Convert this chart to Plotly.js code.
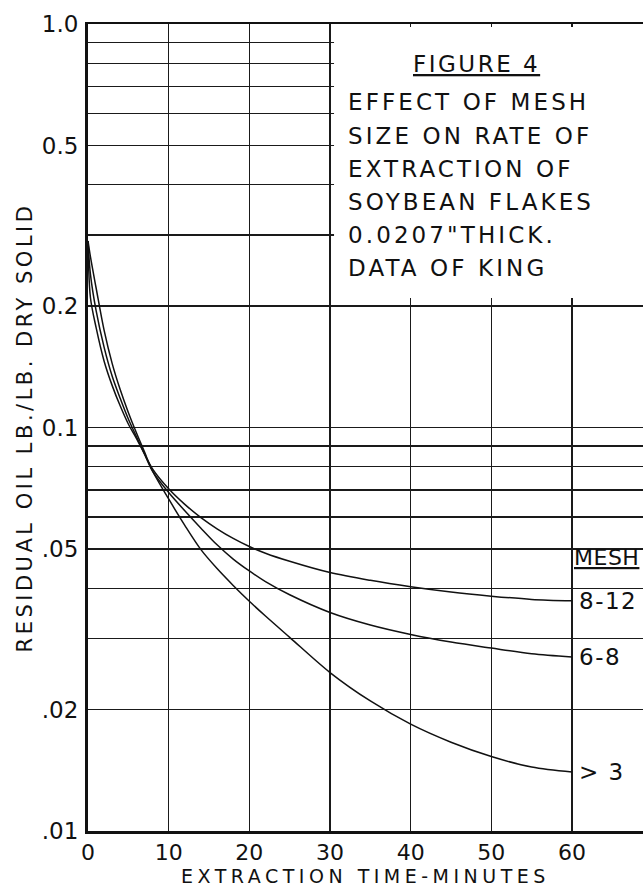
<!DOCTYPE html>
<html>
<head>
<meta charset="utf-8">
<script src="https://cdn.plot.ly/plotly-3.0.1.min.js"></script>
<style>
html,body{margin:0;padding:0;background:#fff;overflow:hidden;}
#chart{width:643px;height:893px;}
</style>
</head>
<body>
<div id="chart"></div>
<script>
// ---- data ----
const timeMin = [0, 0.3, 1, 2, 3, 4, 5, 6, 7, 8, 10, 12, 14, 16, 18, 20, 22, 25, 30, 35, 40, 45, 50, 55, 60];
const mesh8to12 = [0.29, 0.21, 0.177, 0.146, 0.127, 0.113, 0.102, 0.094, 0.086, 0.079, 0.0705, 0.0645, 0.0598, 0.0561, 0.0531, 0.0507, 0.0488, 0.0466, 0.0437, 0.0418, 0.0403, 0.0391, 0.0382, 0.0375, 0.0372];
const mesh6to8 = [0.29, 0.24, 0.195, 0.158, 0.134, 0.118, 0.105, 0.095, 0.086, 0.078, 0.069, 0.0622, 0.0563, 0.0512, 0.0472, 0.0441, 0.0415, 0.0385, 0.0348, 0.0324, 0.0307, 0.0294, 0.0284, 0.0275, 0.027];
const meshOver3 = [0.29, 0.265, 0.222, 0.174, 0.144, 0.124, 0.109, 0.097, 0.087, 0.078, 0.0665, 0.0572, 0.0498, 0.0447, 0.0406, 0.0371, 0.0341, 0.0302, 0.0247, 0.021, 0.0184, 0.0166, 0.0153, 0.0144, 0.014];
const seriesNames = ["8-12", "6-8", "> 3"];

const xTickVals = [0, 10, 20, 30, 40, 50, 60, 70];
const xTickText = ["0", "10", "20", "30", "40", "50", "60", "70"];
const yTickVals = [0.01, 0.02, 0.03, 0.04, 0.05, 0.06, 0.07, 0.08, 0.09, 0.1, 0.2, 0.3, 0.4, 0.5, 0.6, 0.7, 0.8, 0.9, 1.0];
const yTickText = [".01", ".02", "", "", ".05", "", "", "", "", "0.1", "0.2", "", "", "0.5", "", "", "", "", "1.0"];

const noteLines = ["EFFECT OF MESH", "SIZE ON RATE OF", "EXTRACTION OF", "SOYBEAN FLAKES", "0.0207\"THICK.", "DATA OF KING"];

// ---- layout helpers ----
const ML = 88, MR = 0, MT = 24, MB = 62, W = 643, H = 893;
const PW = W - ML - MR, PH = H - MT - MB;
const px = v => (v - ML) / PW;
const py = v => (H - MB - v) / PH;
const FONT = "DejaVu Sans, sans-serif";
const sp = (t, s) => '<span style="letter-spacing:' + s + 'px">' + t + '</span>';

const traces = [mesh8to12, mesh6to8, meshOver3].map((ys, i) => ({
  type: "scatter", mode: "lines", name: seriesNames[i],
  x: timeMin, y: ys,
  line: {color: "#111", width: 1.5, shape: "spline", smoothing: 0.9},
  showlegend: false, hoverinfo: "skip"
}));

const annotations = [];
annotations.push({xref: "paper", yref: "paper", x: px(477), y: py(64), xanchor: "center", yanchor: "middle",
  text: sp("FIGURE 4", 2.5), showarrow: false,
  font: {family: FONT, size: 23, color: "#111", lineposition: "under"}});
const lineY = [102, 136, 169, 202, 235, 268];
noteLines.forEach((t, i) => annotations.push({xref: "paper", yref: "paper", x: px(346), y: py(lineY[i]),
  xanchor: "left", yanchor: "middle", text: sp(t, 3.1), showarrow: false,
  font: {family: FONT, size: 23, color: "#111"}}));
annotations.push({xref: "paper", yref: "paper", x: px(572), y: py(557), xanchor: "left", yanchor: "middle",
  text: sp("MESH", 0.5), showarrow: false,
  font: {family: FONT, size: 22, color: "#111", lineposition: "under"}});
[mesh8to12, mesh6to8, meshOver3].forEach((ys, i) => annotations.push({
  xref: "x", yref: "y", x: timeMin[timeMin.length - 1], y: Math.log10(ys[ys.length - 1]),
  xanchor: "left", yanchor: "middle", xshift: 5, text: sp(seriesNames[i], 1.5), showarrow: false,
  font: {family: FONT, size: 23, color: "#111"}}));

const layout = {
  width: W, height: H,
  margin: {l: ML, r: MR, t: MT, b: MB, pad: 0},
  paper_bgcolor: "#fff", plot_bgcolor: "#fff",
  font: {family: FONT, color: "#111"},
  xaxis: {
    range: [0, 68.8], tickmode: "array", tickvals: xTickVals, ticktext: xTickText,
    showgrid: true, gridcolor: "#1a1a1a", gridwidth: 1.1, zeroline: false,
    showline: true, linecolor: "#111", linewidth: 2.5, mirror: true,
    ticks: "", ticklabelstandoff: 0,
    tickfont: {family: FONT, size: 22, color: "#111"},
    title: {text: sp("EXTRACTION TIME-MINUTES", 4.5), standoff: 0, font: {family: FONT, size: 19, color: "#111"}}
  },
  yaxis: {
    type: "log", range: [-2, 0], tickmode: "array", tickvals: yTickVals, ticktext: yTickText,
    showgrid: true, gridcolor: "#1a1a1a", gridwidth: 1.1, zeroline: false,
    showline: true, linecolor: "#111", linewidth: 3,
    ticks: "", ticklabelstandoff: 2,
    tickfont: {family: FONT, size: 23, color: "#111"},
    title: {text: sp("RESIDUAL OIL LB./LB. DRY SOLID", 3.5), standoff: 4, font: {family: FONT, size: 21, color: "#111"}}
  },
  shapes: [{
    type: "rect", layer: "above", xref: "x", yref: "paper",
    x0: 30.5, x1: 68.8, y0: py(298), y1: py(27),
    fillcolor: "#fff", line: {width: 0}
  }],
  annotations: annotations
};

Plotly.newPlot("chart", traces, layout, {staticPlot: true, displayModeBar: false});
</script>
</body>
</html>
